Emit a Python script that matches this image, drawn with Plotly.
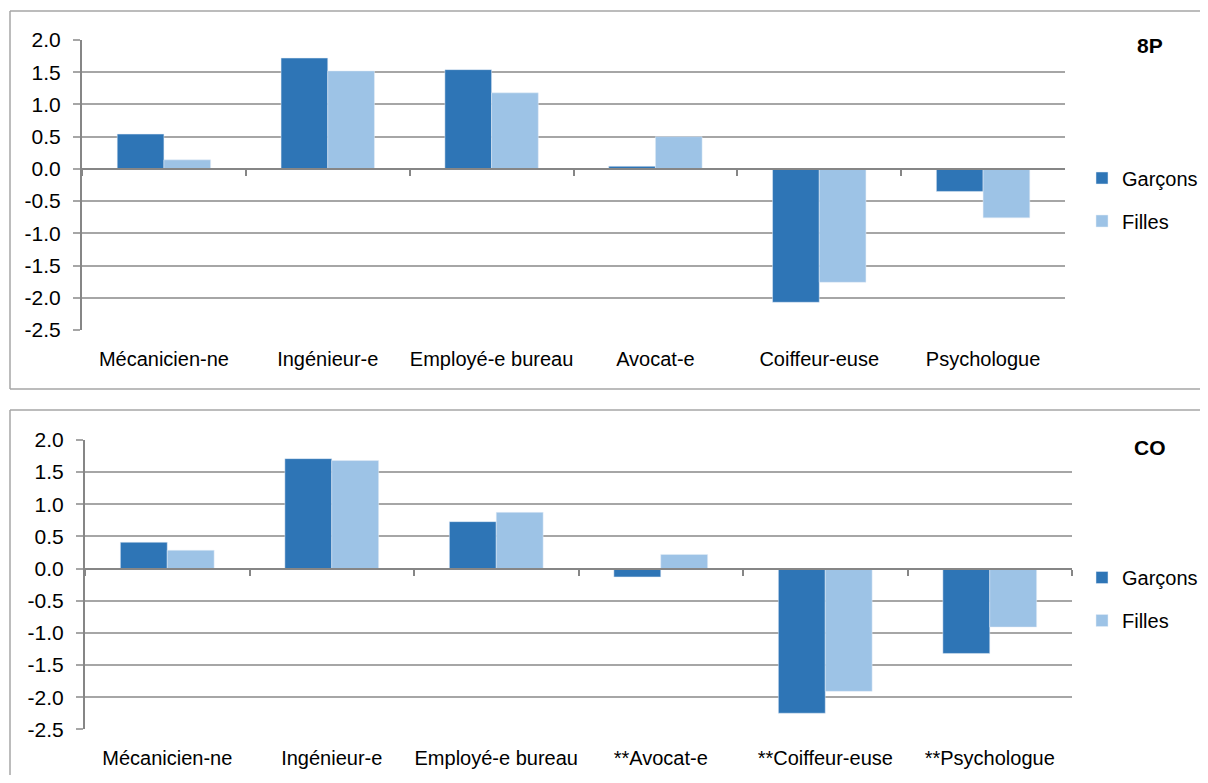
import plotly.graph_objects as go

# ==========================================================
# Data
# ==========================================================

categories_8p = ["Mécanicien-ne", "Ingénieur-e", "Employé-e bureau",
                 "Avocat-e", "Coiffeur-euse", "Psychologue"]
categories_co = ["Mécanicien-ne", "Ingénieur-e", "Employé-e bureau",
                 "**Avocat-e", "**Coiffeur-euse", "**Psychologue"]

garcons_8p = [0.54, 1.72, 1.54, 0.04, -2.07, -0.35]
filles_8p = [0.14, 1.52, 1.18, 0.50, -1.76, -0.76]

garcons_co = [0.41, 1.71, 0.73, -0.13, -2.25, -1.32]
filles_co = [0.285, 1.68, 0.875, 0.22, -1.91, -0.91]

y_ticks = [2.0, 1.5, 1.0, 0.5, 0.0, -0.5, -1.0, -1.5, -2.0, -2.5]
y_ticktext = ["%.1f" % v for v in y_ticks]

# ==========================================================
# Style
# ==========================================================

# the page body has an 8px margin all round; keep the figure inside the
# window so no scrollbars show up
OFF = 8
W, H = 1208 - 2 * OFF, 783 - 2 * OFF
DARK = "#2E75B6"
LIGHT = "#9DC3E6"
GRID = "#a6a6a6"
AXIS = "#868686"
FONT = "Liberation Sans, Arial, sans-serif"


def px_x(v):
    return (v - OFF) / W


def px_y(v):
    return 1 - (v - OFF) / H


def frame_line(x0, y0, x1, y1):
    return dict(type="line", xref="paper", yref="paper",
                x0=x0, y0=y0, x1=x1, y1=y1,
                line=dict(color=GRID, width=1.5), layer="below")


fig = go.Figure()


def add_panel(idx, cats, garcons, filles, legend):
    xa = "x" if idx == 1 else "x%d" % idx
    ya = "y" if idx == 1 else "y%d" % idx
    xz = "x%d" % (idx + 2)
    fig.add_trace(go.Bar(x=cats, y=garcons, name="Garçons", marker_color=DARK,
                         xaxis=xa, yaxis=ya, legend=legend,
                         legendgroup="g%d" % idx))
    fig.add_trace(go.Bar(x=cats, y=filles, name="Filles", marker_color=LIGHT,
                         xaxis=xa, yaxis=ya, legend=legend,
                         legendgroup="f%d" % idx))
    # helper trace so the zero-line axis gets its category ticks
    fig.add_trace(go.Scatter(x=cats, y=[0] * len(cats), mode="markers",
                             marker=dict(opacity=0), showlegend=False,
                             hoverinfo="skip", xaxis=xz, yaxis=ya))


add_panel(1, categories_8p, garcons_8p, filles_8p, "legend")
add_panel(2, categories_co, garcons_co, filles_co, "legend2")

# ==========================================================
# Axes
# ==========================================================

panels = {
    1: dict(x0=82, x1=1065, y0=40, y1=330),
    2: dict(x0=85, x1=1072, y0=440, y1=729.3),
}

layout_axes = {}
for i, p in panels.items():
    sx = "" if i == 1 else str(i)
    layout_axes["xaxis" + sx] = dict(
        domain=[px_x(p["x0"]), px_x(p["x1"])],
        anchor="y" + sx,
        automargin=False,
        showgrid=False, showline=False, ticks="",
        ticklabelstandoff=15,
        tickfont=dict(size=20, color="#000000"),
    )
    layout_axes["yaxis" + sx] = dict(
        domain=[px_y(p["y1"]), px_y(p["y0"])],
        anchor="x" + sx,
        automargin=False,
        range=[-2.5, 2.0],
        tickvals=y_ticks, ticktext=y_ticktext,
        showgrid=True, gridcolor=GRID, gridwidth=1.5,
        zeroline=False,
        showline=True, linecolor=AXIS, linewidth=2,
        ticks="outside", ticklen=7, tickcolor=GRID, tickwidth=1.5,
        ticklabelstandoff=8,
        tickfont=dict(size=21, color="#000000"),
    )
    zero_pos = px_y(p["y0"] + (p["y1"] - p["y0"]) * 2.0 / 4.5)
    layout_axes["xaxis%d" % (i + 2)] = dict(
        overlaying="x" + sx,
        matches="x" + sx,
        anchor="free", position=zero_pos,
        automargin=False,
        showgrid=False, showticklabels=False,
        showline=True, linecolor=AXIS, linewidth=2,
        ticks="outside", tickson="boundaries", ticklen=6,
        tickcolor=AXIS, tickwidth=1.5,
    )

fig.update_layout(**layout_axes)

# ==========================================================
# Layout
# ==========================================================

legend_style = dict(
    xanchor="left", yanchor="middle",
    font=dict(size=20, color="#000000", family=FONT),
    tracegroupgap=14, traceorder="grouped",
    bgcolor="rgba(0,0,0,0)",
)

# panel frames: open on the right, the bottom one runs off the page
left = px_x(10)
frames = [
    frame_line(left, px_y(11), 1, px_y(11)),
    frame_line(left, px_y(389), 1, px_y(389)),
    frame_line(left, px_y(11), left, px_y(389)),
    frame_line(left, px_y(410), 1, px_y(410)),
    frame_line(left, px_y(410), left, 0),
]

fig.update_layout(
    width=W, height=H,
    margin=dict(l=0, r=0, t=0, b=0, autoexpand=False),
    paper_bgcolor="white", plot_bgcolor="white",
    font=dict(family=FONT, color="#000000"),
    barmode="group", bargap=0.43, bargroupgap=0,
    legend=dict(x=px_x(1082), y=px_y(199.5), **legend_style),
    legend2=dict(x=px_x(1082), y=px_y(599), **legend_style),
    shapes=frames,
    annotations=[
        dict(text="<b>8P</b>", x=px_x(1150), y=px_y(45), xref="paper",
             yref="paper", xanchor="center", yanchor="middle",
             showarrow=False, font=dict(size=21)),
        dict(text="<b>CO</b>", x=px_x(1150), y=px_y(447), xref="paper",
             yref="paper", xanchor="center", yanchor="middle",
             showarrow=False, font=dict(size=21)),
    ],
)

fig.write_html("out.html")
